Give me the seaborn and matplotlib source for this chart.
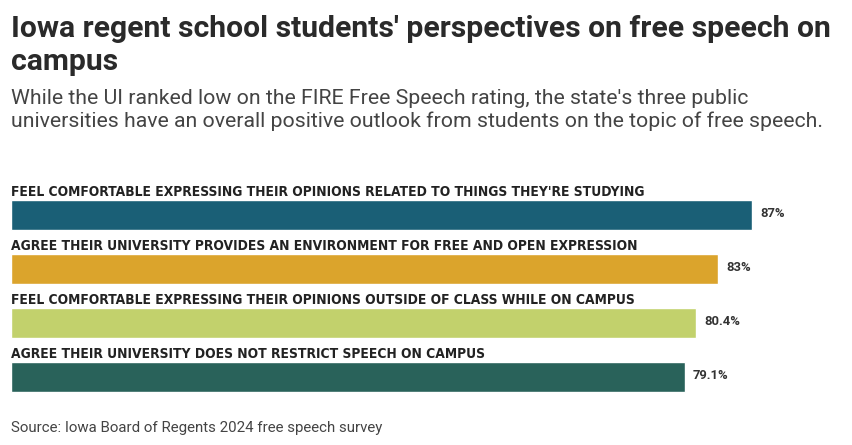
import matplotlib
matplotlib.use("Agg")
import matplotlib.pyplot as plt
import seaborn as sns
import pandas as pd

categories = [
    "FEEL COMFORTABLE EXPRESSING THEIR OPINIONS RELATED TO THINGS THEY'RE STUDYING",
    "AGREE THEIR UNIVERSITY PROVIDES AN ENVIRONMENT FOR FREE AND OPEN EXPRESSION",
    "FEEL COMFORTABLE EXPRESSING THEIR OPINIONS OUTSIDE OF CLASS WHILE ON CAMPUS",
    "AGREE THEIR UNIVERSITY DOES NOT RESTRICT SPEECH ON CAMPUS",
]
values = [87, 83, 80.4, 79.1]
value_labels = ["87%", "83%", "80.4%", "79.1%"]
colors = ["#1a5f76", "#dba42c", "#c2d16c", "#29625a"]

title_lines = ["Iowa regent school students' perspectives on free speech on", "campus"]
subtitle_lines = [
    "While the UI ranked low on the FIRE Free Speech rating, the state's three public",
    "universities have an overall positive outlook from students on the topic of free speech.",
]
source = "Source: Iowa Board of Regents 2024 free speech survey"

sns.set_style("white")
plt.rcParams['font.family'] = ['Roboto', 'DejaVu Sans']

W, H = 852, 445
fig = plt.figure(figsize=(W / 100, H / 100), dpi=100)

def px(x, y):
    return x / W, 1 - y / H

# axes: x from 11 px to 852 px; y spanning bar centers 215..377
step = 54.0
top = 215 - step / 2
bottom = 377 + step / 2
ax = fig.add_axes([11 / W, 1 - bottom / H, (W - 11) / W, (bottom - top) / H])

df = pd.DataFrame({"cat": categories, "val": values})
sns.barplot(data=df, y="cat", x="val", hue="cat", palette=colors, legend=False,
            orient="h", width=0.54, ax=ax, saturation=1)
ax.set_xlim(0, (W - 11) / 8.52)
ax.set_ylim(3.5, -0.5)
ax.axis("off")

for i, (c, v, lab) in enumerate(zip(categories, values, value_labels)):
    ax.text(0.05, i - 0.355, c, ha="left", va="baseline", fontsize=9.9, fontweight="bold",
            color="#222222", fontstretch="condensed", clip_on=False,
            family=["DejaVu Sans"])
    ax.text(v + 0.95, i - 0.02, lab, ha="left", va="center", fontsize=9.4, fontweight="bold",
            color="#333333")

for k, line in enumerate(title_lines):
    x, y = px(11, 37 + 33 * k)
    fig.text(x, y, line, fontsize=21.7, fontweight="bold", color="#2a2a2a",
             ha="left", va="baseline")
for k, line in enumerate(subtitle_lines):
    x, y = px(11, 104 + 23.5 * k)
    fig.text(x, y, line, fontsize=15.3, color="#444444", ha="left", va="baseline")
x, y = px(11, 432)
fig.text(x, y, source, fontsize=10.8, color="#444444", ha="left", va="baseline")

fig.savefig("out.png", dpi=100)
